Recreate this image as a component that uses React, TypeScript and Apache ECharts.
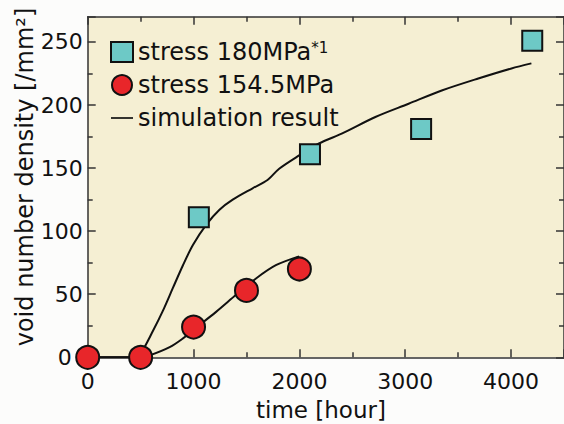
import React, { useEffect, useRef } from "react";
import * as echarts from "echarts";

const stress180: [number, number][] = [
  [1050, 111],
  [2100, 161],
  [3150, 181],
  [4200, 251],
];
const stress154: [number, number][] = [
  [0, 0],
  [500, 0],
  [1000, 24],
  [1500, 53],
  [2000, 70],
];
const sim180: [number, number][] = [
  [0, 0], [440, 0], [500, 3], [617, 21], [711, 37], [805, 55], [900, 73],
  [994, 89], [1119, 105], [1245, 117], [1370, 125], [1558, 134], [1699, 140.5],
  [1809, 149.5], [1997, 160], [2185, 169.5], [2405, 177.5], [2718, 190.5],
  [3032, 201], [3345, 211.5], [3690, 221], [4004, 229], [4192, 233],
];
const sim154: [number, number][] = [
  [0, 0], [500, 0], [586, 1.5], [774, 8], [900, 15], [994, 21.5], [1213, 36],
  [1402, 49.5], [1590, 62.5], [1778, 73], [1997, 80],
];
const xTicks = { min: 0, max: 4500, interval: 1000 };
const yTicks = { min: 0, max: 270, interval: 50 };

const FONT = "DejaVu Sans";
const AX = "#333";

export default function App() {
  const ref = useRef<HTMLDivElement>(null);
  useEffect(() => {
    document.body.style.margin = "0";
    const chart = echarts.init(ref.current!, null, { renderer: "svg" });
    const baseX = {
      type: "value" as const,
      min: xTicks.min,
      max: xTicks.max,
      interval: xTicks.interval,
      axisLine: { show: true, onZero: false, lineStyle: { color: AX, width: 1.5 } },
      axisTick: { show: true, inside: true, length: 8, lineStyle: { color: AX, width: 1.5 } },
      minorTick: { show: true, splitNumber: 2, length: 5, lineStyle: { color: AX, width: 1.5 } },
      splitLine: { show: false },
    };
    const baseY = {
      type: "value" as const,
      min: yTicks.min,
      max: yTicks.max,
      interval: yTicks.interval,
      axisLine: { show: true, onZero: false, lineStyle: { color: AX, width: 1.5 } },
      axisTick: { show: true, inside: true, length: 8, lineStyle: { color: AX, width: 1.5 } },
      minorTick: { show: true, splitNumber: 2, length: 5, lineStyle: { color: AX, width: 1.5 } },
      splitLine: { show: false },
    };
    chart.setOption({
      animation: false,
      backgroundColor: "#FCFCFB",
      textStyle: { fontFamily: FONT },
      grid: {
        left: 87.7,
        top: 16.7,
        bottom: 66.7,
        right: -2,
        show: true,
        backgroundColor: "#F5EFD3",
        borderWidth: 0,
      },
      xAxis: [
        {
          ...baseX,
          position: "bottom",
          axisLabel: {
            showMaxLabel: false,
            margin: 13,
            fontSize: 22,
            color: "#111",
            fontFamily: FONT,
            formatter: (v: number) => String(v),
          },
        },
        {
          ...baseX,
          position: "top",
          axisLabel: { show: false },
        },
      ],
      yAxis: [
        {
          ...baseY,
          position: "left",
          axisLabel: {
            showMaxLabel: false,
            margin: 5,
            fontSize: 22,
            color: "#111",
            fontFamily: FONT,
            formatter: (v: number) => (v === 0 ? "{z|0}" : String(v)),
            rich: {
              z: { fontFamily: FONT, fontSize: 22, color: "#111", padding: [0, 11, 0, 0] },
            },
          },
        },
        {
          ...baseY,
          position: "right",
          axisLabel: { show: false },
        },
      ],
      legend: {
        orient: "vertical",
        left: 110,
        top: 40,
        padding: 0,
        itemWidth: 22,
        itemHeight: 20,
        itemGap: 9,
        itemStyle: { borderColor: "#111", borderWidth: 2 },
        data: [
          { name: "stress 180MPa", icon: "rect" },
          { name: "stress 154.5MPa", icon: "circle" },
          {
            name: "simulation result",
            icon: "path://M0,0 L26,0 L26,2 L0,2 Z",
            itemStyle: { color: "#111", borderWidth: 0 },
          },
        ],
        formatter: (n: string) => (n === "stress 180MPa" ? "{m|" + n + "}{s|*1}" : "{m|" + n + "}"),
        textStyle: {
          fontFamily: FONT,
          fontSize: 24,
          color: "#111",
          lineHeight: 24,
          rich: {
            m: { fontFamily: FONT, fontSize: 24, color: "#111", lineHeight: 24 },
            s: { fontFamily: FONT, fontSize: 15, color: "#111", lineHeight: 24, verticalAlign: "top", padding: [0, 0, 9, 0] },
          },
        },
      },
      graphic: [
        {
          type: "text",
          x: 321,
          y: 410,
          style: {
            text: "time [hour]",
            fontFamily: FONT,
            fontSize: 23,
            fill: "#111",
            align: "center",
            verticalAlign: "middle",
          },
        },
        {
          type: "text",
          x: 25,
          y: 177,
          rotation: Math.PI / 2,
          style: {
            text: "void number density [/mm²]",
            fontFamily: FONT,
            fontSize: 24,
            fill: "#111",
            align: "center",
            verticalAlign: "middle",
          },
        },
      ],
      series: [
        {
          name: "simulation result",
          type: "line",
          data: sim180,
          showSymbol: false,
          symbol: "none",
          smooth: 0.3,
          lineStyle: { color: "#111", width: 2 },
          itemStyle: { color: "#111" },
          z: 2,
        },
        {
          name: "simulation result",
          type: "line",
          data: sim154,
          showSymbol: false,
          symbol: "none",
          smooth: 0.3,
          lineStyle: { color: "#111", width: 2 },
          itemStyle: { color: "#111" },
          z: 2,
        },
        {
          name: "stress 180MPa",
          type: "scatter",
          data: stress180,
          symbol: "rect",
          symbolSize: 20,
          itemStyle: { color: "#6DC9C6", borderColor: "#111", borderWidth: 2, opacity: 1 },
          z: 3,
        },
        {
          name: "stress 154.5MPa",
          type: "scatter",
          data: stress154,
          symbol: "circle",
          symbolSize: 23,
          itemStyle: { color: "#E8262A", borderColor: "#111", borderWidth: 2, opacity: 1 },
          z: 4,
        },
      ],
    });
    return () => chart.dispose();
  }, []);
  return <div ref={ref} style={{ width: 564, height: 424 }} />;
}
